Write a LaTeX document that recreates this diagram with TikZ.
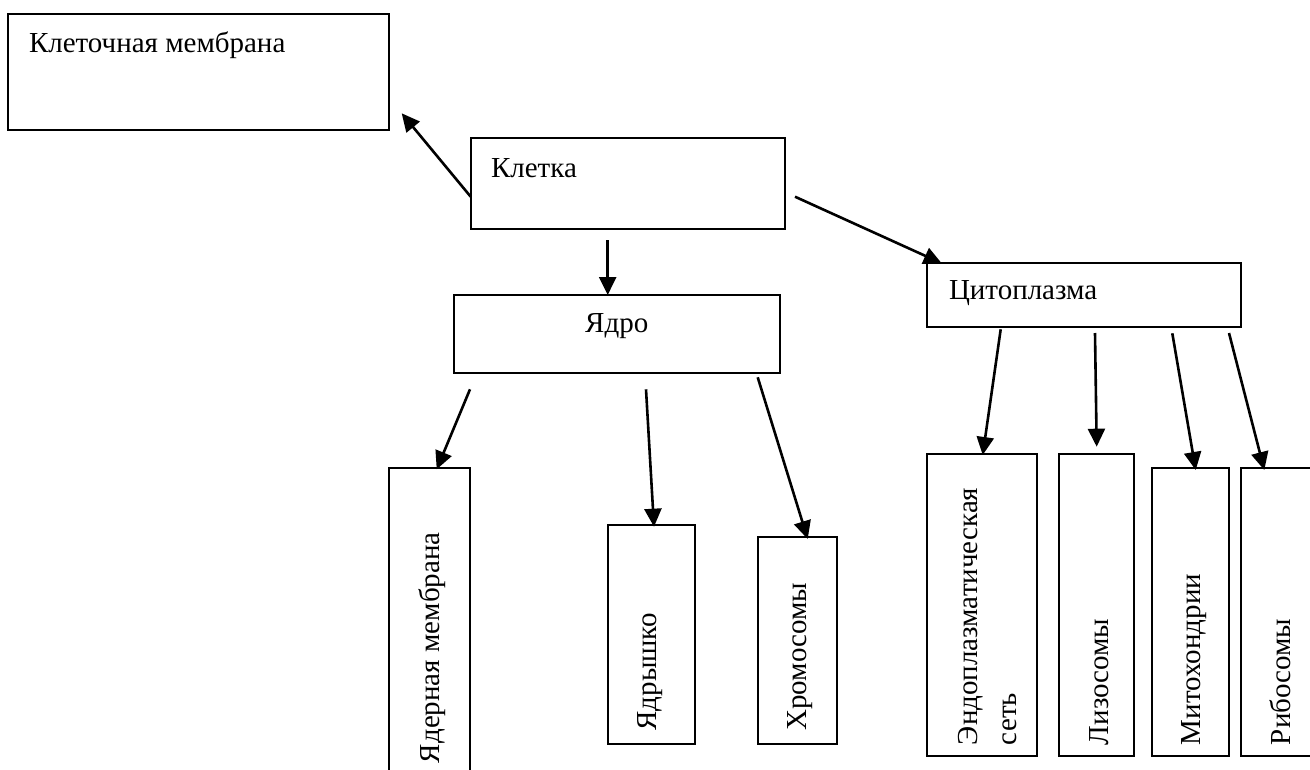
\documentclass[tikz,border=0pt]{standalone}
\usepackage{fontspec}
\setmainfont{Liberation Serif}
\usetikzlibrary{arrows.meta}
\tikzset{
  box/.style={draw=black, line width=2pt, inner sep=0pt, outer sep=0pt, fill=none, anchor=north west},
  txt/.style={inner sep=0pt, outer sep=0pt, font=\fontsize{29}{35}\selectfont},
  vtxt/.style={txt, rotate=90, anchor=base west},
  arr/.style={line width=2.6pt, -{Triangle[length=18pt,width=17pt]}}
}
\begin{document}
\begin{tikzpicture}[x=1pt,y=-1pt]
\useasboundingbox (0,0) rectangle (1310,769);
\clip (0,0) rectangle (1310,769);
\fill[white] (0,0) rectangle (1310,769);
% boxes
\node[box, minimum width=381pt, minimum height=116pt] (mem) at (8.3,14) {};
\node[box, minimum width=314.6pt, minimum height=91.3pt] (kl) at (470.7,137.7) {};
\node[box, minimum width=326pt, minimum height=77.7pt] (yadro) at (454,295) {};
\node[box, minimum width=313.4pt, minimum height=63.4pt] (cyto) at (927.3,263.3) {};
\node[box, minimum width=80.7pt, minimum height=320pt] (ym) at (389.3,468.3) {};
\node[box, minimum width=87.3pt, minimum height=219pt] (yadrysh) at (607.7,525) {};
\node[box, minimum width=79pt, minimum height=206.7pt] (chrom) at (757.7,537.3) {};
\node[box, minimum width=109.4pt, minimum height=301.4pt] (eps) at (927.3,454.3) {};
\node[box, minimum width=75.3pt, minimum height=301.4pt] (lys) at (1058.7,454.3) {};
\node[box, minimum width=77.3pt, minimum height=287.4pt] (mito) at (1151.7,468.3) {};
\node[box, minimum width=100pt, minimum height=287.4pt] (ribo) at (1240.7,468.3) {};
% texts
\node[txt, anchor=base west] (memt) at (29,52.7) {Клеточная мембрана};
\node[txt, anchor=base west] (klt) at (491,177.3) {Клетка};
\node[txt, anchor=base] (yadrot) at (616.7,332.7) {Ядро};
\node[txt, anchor=base west] (cytot) at (949,299.3) {Цитоплазма};
\node[vtxt] (ymt) at (439.5,763) {Ядерная мембрана};
\node[vtxt] (yadrysht) at (656,730.5) {Ядрышко};
\node[vtxt] (chromt) at (806.7,730.5) {Хромосомы};
\node[vtxt] (epst) at (977.3,745) {Эндоплазматическая};
\node[vtxt] (epst2) at (1016.7,745) {сеть};
\node[vtxt] (lyst) at (1108.3,745) {Лизосомы};
\node[vtxt] (mitot) at (1200,745) {Митохондрии};
\node[vtxt] (ribot) at (1290,745) {Рибосомы};
% connectors
\draw[arr] ([shift={(0,59)}]kl.north west) -- ([shift={(12.4,-16.7)}]mem.south east);
\draw[arr] ([shift={(137,11)}]kl.south west) -- ([shift={(153.7,0)}]yadro.north west);
\draw[arr] ([shift={(9.7,59)}]kl.north east) -- ([shift={(14.4,0)}]cyto.north west);
\draw[arr] ([shift={(16,16.6)}]yadro.south west) -- ([shift={(47.4,1)}]ym.north west);
\draw[arr] ([shift={(192,16.6)}]yadro.south west) -- ([shift={(46.3,1.7)}]yadrysh.north west);
\draw[arr] ([shift={(303.7,4.6)}]yadro.south west) -- ([shift={(50,1.7)}]chrom.north west);
\draw[arr] ([shift={(73.4,2.6)}]cyto.south west) -- ([shift={(55.4,0.7)}]eps.north west);
\draw[arr] ([shift={(167.7,6.3)}]cyto.south west) -- ([shift={(38,-7.6)}]lys.north west);
\draw[arr] ([shift={(245,6.6)}]cyto.south west) -- ([shift={(44,1.7)}]mito.north west);
\draw[arr] ([shift={(301.7,6.3)}]cyto.south west) -- ([shift={(23.6,1.7)}]ribo.north west);
\end{tikzpicture}
\end{document}
